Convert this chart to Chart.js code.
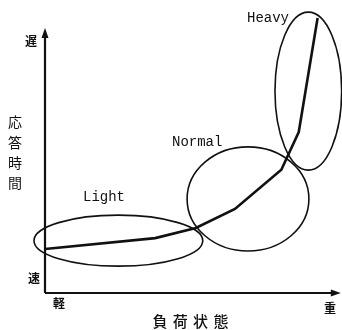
<!DOCTYPE html>
<html><head><meta charset="utf-8">
<script src="https://cdn.jsdelivr.net/npm/chart.js@4/dist/chart.umd.min.js"></script>
<style>html,body{margin:0;padding:0;background:#fff}canvas{display:block}</style>
</head><body>
<canvas id="c" width="342" height="330" style="width:342px;height:330px"></canvas>
<script>
// load level (x) and response time (y), in relative units 0..100
const loadLevels    = [0, 38, 52, 65.5, 81.5, 87.5, 94];
const responseTimes = [15.7, 19.6, 23.2, 30, 44, 57.5, 98.2];

// regions (ellipses) in the same relative units
const regionNames   = ['Light', 'Normal', 'Heavy'];
const regionCenterX = [25.3, 70, 90.8];
const regionCenterY = [18.7, 33.6, 72.1];
const regionRadiusX = [29.1, 21, 11.5];
const regionRadiusY = [9.1, 18.6, 28.2];

// axis labels
const xAxisEnds = ['軽', '重'];
const yAxisEnds = ['速', '遅'];
const xTitle = '負荷状態';
const yTitle = '応答時間';
const axisRangeX = [0, 102];
const axisRangeY = [0, 94.6];

const INK = '#111';

const decor = {
  id: 'decor',
  beforeDatasetsDraw(chart) {
    const {ctx, scales: {x, y}} = chart;
    const x0 = x.getPixelForValue(axisRangeX[0]), x1 = x.getPixelForValue(axisRangeX[1]);
    const y0 = y.getPixelForValue(axisRangeY[0]), y1 = y.getPixelForValue(axisRangeY[1]);
    ctx.save();
    ctx.strokeStyle = INK; ctx.fillStyle = INK; ctx.lineWidth = 2.2;
    ctx.beginPath();
    ctx.moveTo(x0, y0); ctx.lineTo(x1 - 6, y0);
    ctx.moveTo(x0, y0); ctx.lineTo(x0, y1 + 6);
    ctx.stroke();
    ctx.beginPath(); ctx.moveTo(x1, y0); ctx.lineTo(x1 - 10, y0 - 3.5); ctx.lineTo(x1 - 10, y0 + 3.5); ctx.closePath(); ctx.fill();
    ctx.beginPath(); ctx.moveTo(x0, y1); ctx.lineTo(x0 - 3.5, y1 + 10); ctx.lineTo(x0 + 3.5, y1 + 10); ctx.closePath(); ctx.fill();

    // axis end labels
    ctx.textAlign = 'center'; ctx.textBaseline = 'middle';
    ctx.font = 'bold 12px "Noto Sans CJK JP"';
    ctx.fillText(yAxisEnds[1], 31, 41);
    ctx.fillText(yAxisEnds[0], 34, 278);
    ctx.fillText(xAxisEnds[0], 59, 303);
    ctx.fillText(xAxisEnds[1], 330, 308);

    // y title (vertical)
    ctx.font = '14px "Noto Sans CJK JP"';
    const ys = [122, 143, 163, 183];
    for (let i = 0; i < yTitle.length; i++) ctx.fillText(yTitle[i], 15, ys[i]);
    // x title
    ctx.font = '500 15px "Noto Sans CJK JP"';
    for (let i = 0; i < xTitle.length; i++) ctx.fillText(xTitle[i], 160 + i * 20.3, 321);
    ctx.restore();
  },
  afterDatasetsDraw(chart) {
    const {ctx, scales: {x, y}} = chart;
    ctx.save();
    ctx.strokeStyle = INK; ctx.lineWidth = 1.6;
    for (let i = 0; i < regionNames.length; i++) {
      const cx = x.getPixelForValue(regionCenterX[i]), cy = y.getPixelForValue(regionCenterY[i]);
      const rx = Math.abs(x.getPixelForValue(regionCenterX[i] + regionRadiusX[i]) - cx);
      const ry = Math.abs(y.getPixelForValue(regionCenterY[i] + regionRadiusY[i]) - cy);
      ctx.beginPath(); ctx.ellipse(cx, cy, rx, ry, 0, 0, Math.PI * 2); ctx.stroke();
    }
    ctx.fillStyle = INK;
    ctx.font = '14px "Liberation Mono"';
    ctx.textAlign = 'left'; ctx.textBaseline = 'middle';
    const anchors = [[83, 197], [172, 142], [247, 18]];
    for (let i = 0; i < regionNames.length; i++) ctx.fillText(regionNames[i], anchors[i][0], anchors[i][1]);
    ctx.restore();
  }
};

new Chart(document.getElementById('c'), {
  type: 'scatter',
  data: {
    datasets: [{
      data: loadLevels.map((v, i) => ({x: v, y: responseTimes[i]})),
      showLine: true,
      borderColor: INK,
      borderWidth: 2.6,
      pointRadius: 0,
      tension: 0,
      clip: false
    }]
  },
  options: {
    responsive: false,
    animation: false,
    devicePixelRatio: 1,
    layout: {padding: {left: 45, right: 7, top: 13, bottom: 37}},
    plugins: {legend: {display: false}, tooltip: {enabled: false}, title: {display: false}},
    scales: {
      x: {type: 'linear', min: 0, max: 100, display: false},
      y: {type: 'linear', min: 0, max: 100, display: false}
    }
  },
  plugins: [decor]
});
</script>
</body></html>
